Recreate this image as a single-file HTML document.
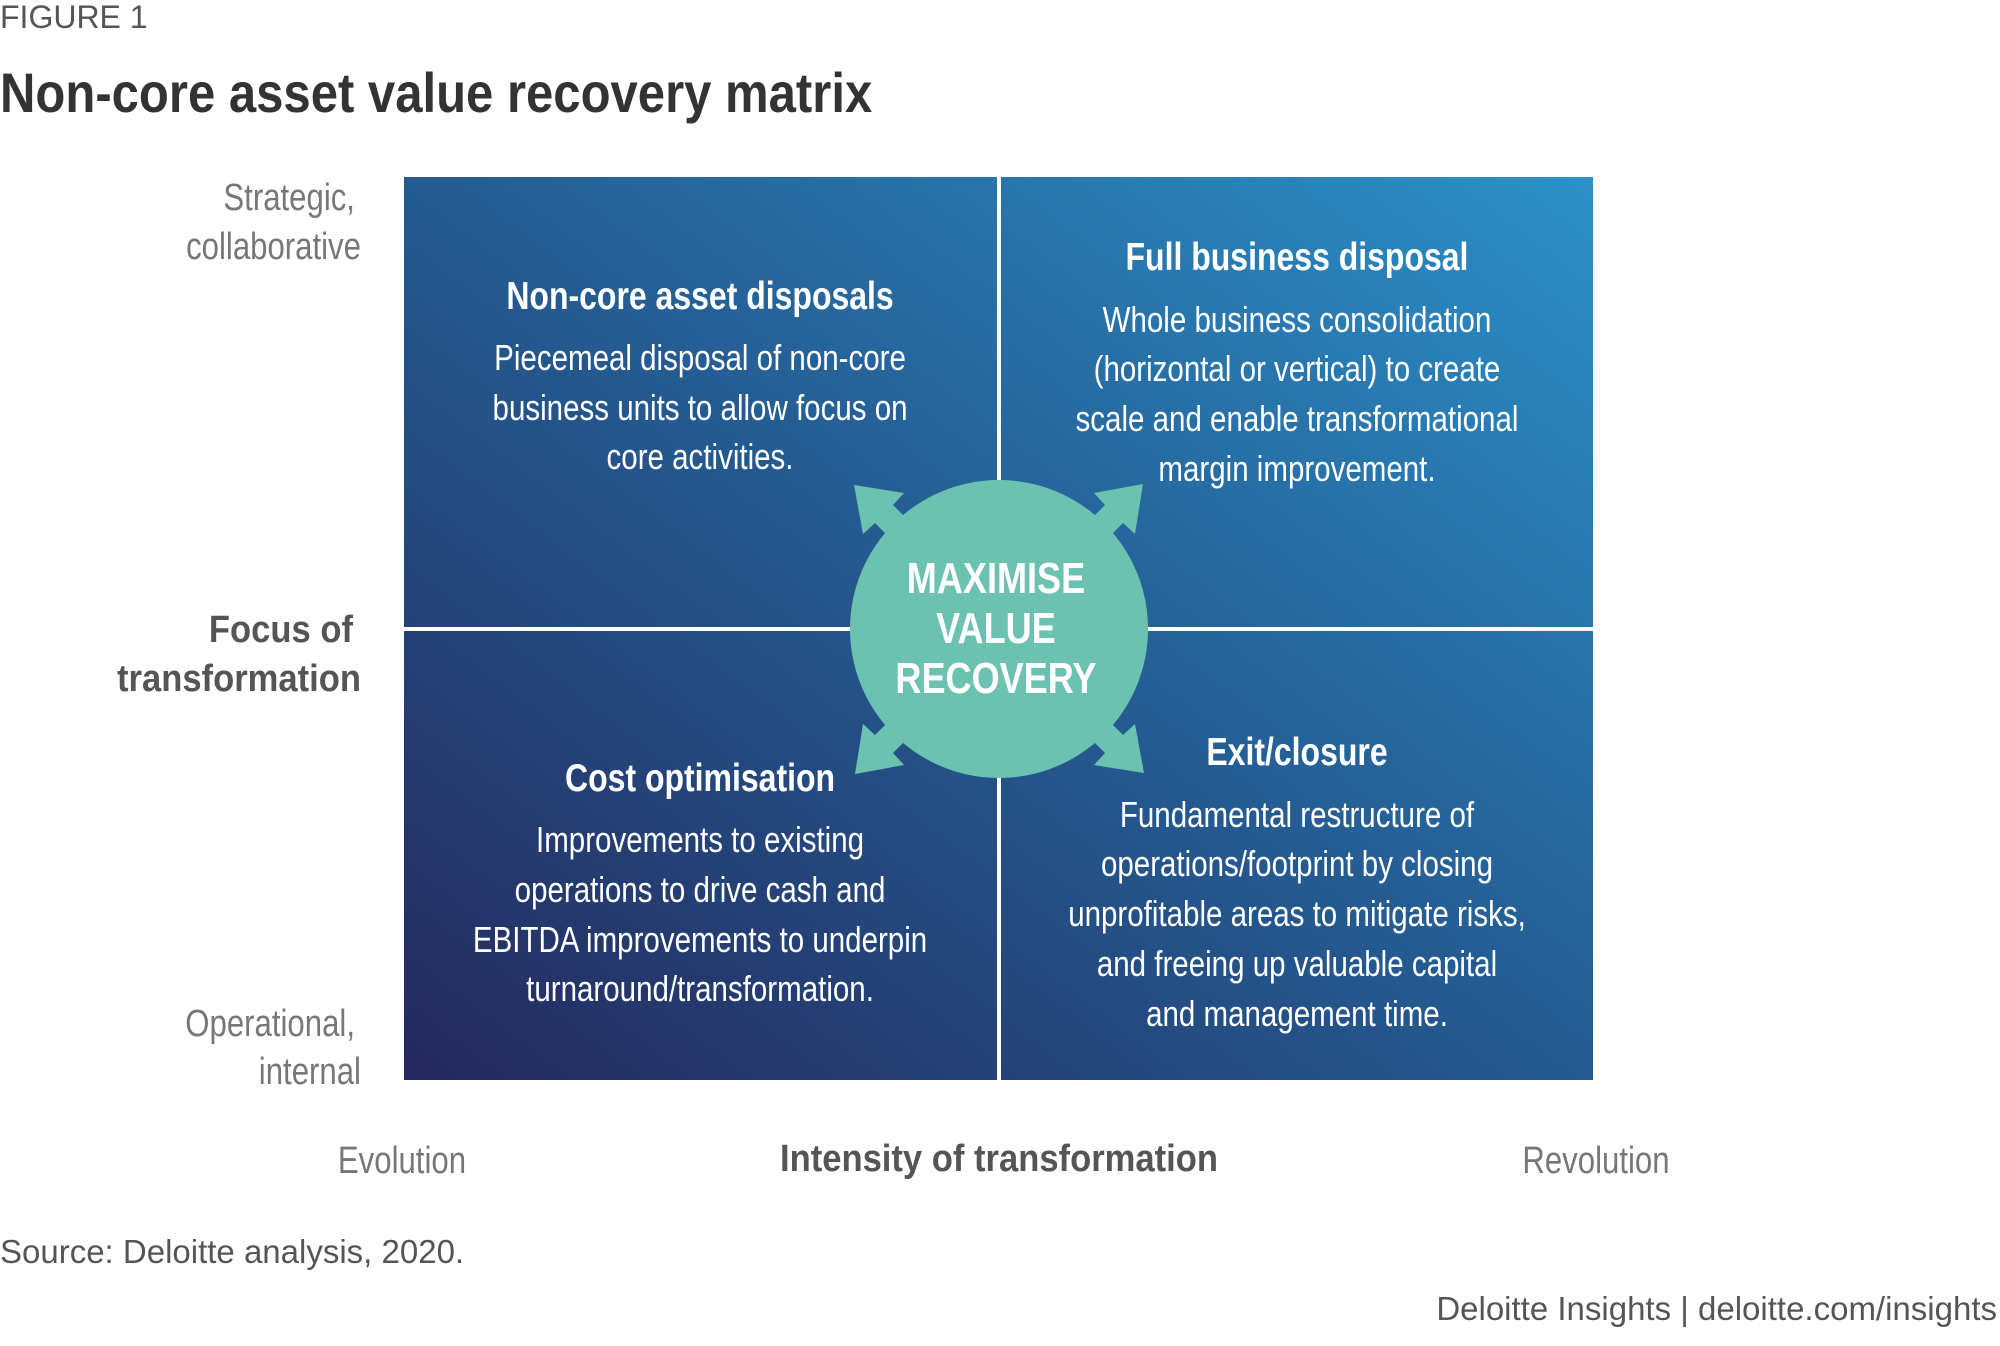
<!DOCTYPE html>
<html><head><meta charset="utf-8"><style>
body{margin:0;width:2000px;height:1341px;background:#fff;overflow:hidden}
</style></head><body>
<svg width="2000" height="1341" xmlns="http://www.w3.org/2000/svg">
<defs>
<linearGradient id="g" x1="0" y1="1" x2="1" y2="0">
<stop offset="0" stop-color="#25285c"/>
<stop offset="0.5" stop-color="#245b91"/>
<stop offset="1" stop-color="#2c90c8"/>
</linearGradient>
</defs>
<g font-family="Liberation Sans, sans-serif">
<text x="0" y="28" font-size="32" fill="#555">FIGURE 1</text>
<g transform="scale(0.876,1)"><text x="0" y="112" font-size="56" font-weight="bold" fill="#333">Non-core asset value recovery matrix</text></g>

<rect x="404" y="177" width="1189" height="903" fill="url(#g)"/>
<line x1="999" y1="177" x2="999" y2="1080" stroke="#fff" stroke-width="4"/>
<line x1="404" y1="629" x2="1593" y2="629" stroke="#fff" stroke-width="4"/>

<g fill="#6cc2b0">
<circle cx="999" cy="629" r="149"/>
<g id="ar"><polygon points="854,485 904,493 893,505 935,547 917,565 875,523 863,534"/></g>
<use href="#ar" transform="rotate(90 999 629)"/>
<use href="#ar" transform="rotate(180 999 629)"/>
<use href="#ar" transform="rotate(270 999 629)"/>
</g>
<g transform="scale(0.82,1)">
<g fill="#fff" font-weight="bold" font-size="44" text-anchor="middle">
<text x="1214.6" y="593">MAXIMISE</text>
<text x="1214.6" y="643">VALUE</text>
<text x="1214.6" y="693">RECOVERY</text>
</g>

<g fill="#fff" text-anchor="middle" font-size="36">
<text x="853.7" y="309" font-weight="bold" font-size="39">Non-core asset disposals</text>
<text x="853.7" y="370">Piecemeal disposal of non-core</text>
<text x="853.7" y="420">business units to allow focus on</text>
<text x="853.7" y="469">core activities.</text>

<text x="1581.7" y="270" font-weight="bold" font-size="39">Full business disposal</text>
<text x="1581.7" y="332">Whole business consolidation</text>
<text x="1581.7" y="381">(horizontal or vertical) to create</text>
<text x="1581.7" y="431">scale and enable transformational</text>
<text x="1581.7" y="481">margin improvement.</text>

<text x="853.7" y="791" font-weight="bold" font-size="39">Cost optimisation</text>
<text x="853.7" y="852">Improvements to existing</text>
<text x="853.7" y="902">operations to drive cash and</text>
<text x="853.7" y="952">EBITDA improvements to underpin</text>
<text x="853.7" y="1001">turnaround/transformation.</text>

<text x="1581.7" y="765" font-weight="bold" font-size="39">Exit/closure</text>
<text x="1581.7" y="827">Fundamental restructure of</text>
<text x="1581.7" y="876">operations/footprint by closing</text>
<text x="1581.7" y="926">unprofitable areas to mitigate risks,</text>
<text x="1581.7" y="976">and freeing up valuable capital</text>
<text x="1581.7" y="1026">and management time.</text>
</g>

<g text-anchor="end" font-size="38">
<text x="432.9" y="210" fill="#777">Strategic,</text>
<text x="440.2" y="259" fill="#777">collaborative</text>
<text x="432.9" y="1036" fill="#777">Operational,</text>
<text x="440.2" y="1084" fill="#777">internal</text>
</g>
<g text-anchor="middle" font-size="38">
<text x="490.2" y="1173" fill="#777">Evolution</text>
<text x="1946.3" y="1173" fill="#777">Revolution</text>
</g>
</g>
<g transform="scale(0.91,1)" font-size="38" fill="#555" font-weight="bold">
<text x="387.9" y="642" text-anchor="end">Focus of</text>
<text x="396.7" y="691" text-anchor="end">transformation</text>
<text x="1097.8" y="1171" text-anchor="middle">Intensity of transformation</text>
</g>
<text x="0" y="1263" font-size="33" fill="#555">Source: Deloitte analysis, 2020.</text>
<text x="1997" y="1320" font-size="33" fill="#555" text-anchor="end">Deloitte Insights | deloitte.com/insights</text>
</g>
</svg>
</body></html>
